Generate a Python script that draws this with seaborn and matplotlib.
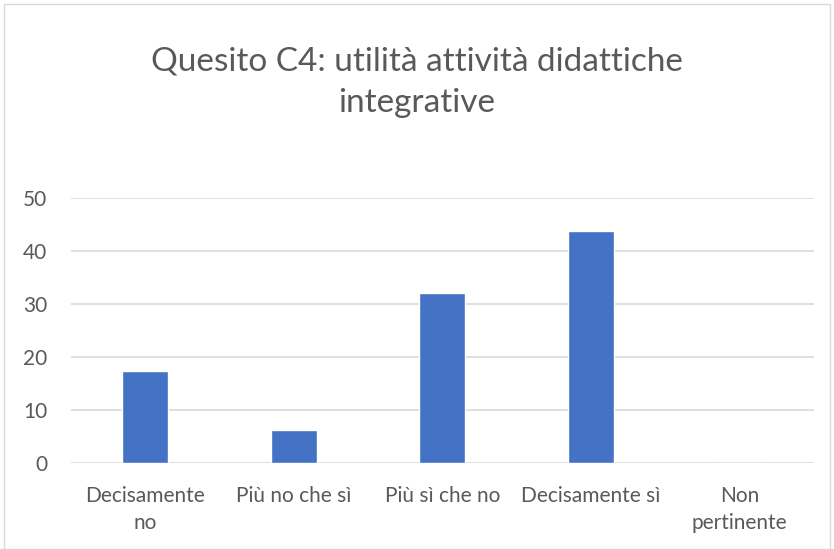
import matplotlib
matplotlib.use("Agg")
import matplotlib.pyplot as plt
import seaborn as sns
import pandas as pd
from matplotlib.patches import Rectangle

categories = ["Decisamente\nno", "Più no che sì", "Più sì che no", "Decisamente sì", "Non\npertinente"]
values = [17.5, 6.2, 32.1, 43.9, 0]
yticks = [0, 10, 20, 30, 40, 50]

sns.set_theme(style="white")
plt.rcParams['font.family'] = ['Lato', 'DejaVu Sans']

text_color = "#595959"
grid_color = "#d9d9d9"
bar_color = "#4472c4"

fig = plt.figure(figsize=(8.34, 5.49), dpi=100)
ax = fig.add_axes([0.0848, 0.156, 0.891, 0.4828])

df = pd.DataFrame({"cat": categories, "val": values})
sns.barplot(data=df, x="cat", y="val", color=bar_color, width=0.31, saturation=1, ax=ax)

ax.set_ylim(0, 50)
ax.set_yticks(yticks)
ax.set_xlim(-0.5, len(categories) - 0.5)
ax.yaxis.grid(True, color=grid_color, linewidth=1.2)
ax.set_axisbelow(True)
for s in ax.spines.values():
    s.set_visible(False)
ax.set_xlabel("")
ax.set_ylabel("")
ax.tick_params(axis="both", length=0, labelsize=15, colors=text_color)
ax.tick_params(axis="x", pad=16)
ax.tick_params(axis="y", pad=17)
for lbl in ax.get_xticklabels():
    lbl.set_linespacing(1.45)

fig.text(0.5, 0.85, "Quesito C4: utilità attività didattiche\nintegrative", ha="center", va="center",
         fontsize=24, color=text_color, linespacing=1.45)

fig.patches.append(Rectangle((0.005, 0.0), 0.99, 0.993, transform=fig.transFigure,
                             fill=False, edgecolor=grid_color, linewidth=1))

fig.savefig("out.png", dpi=100)
